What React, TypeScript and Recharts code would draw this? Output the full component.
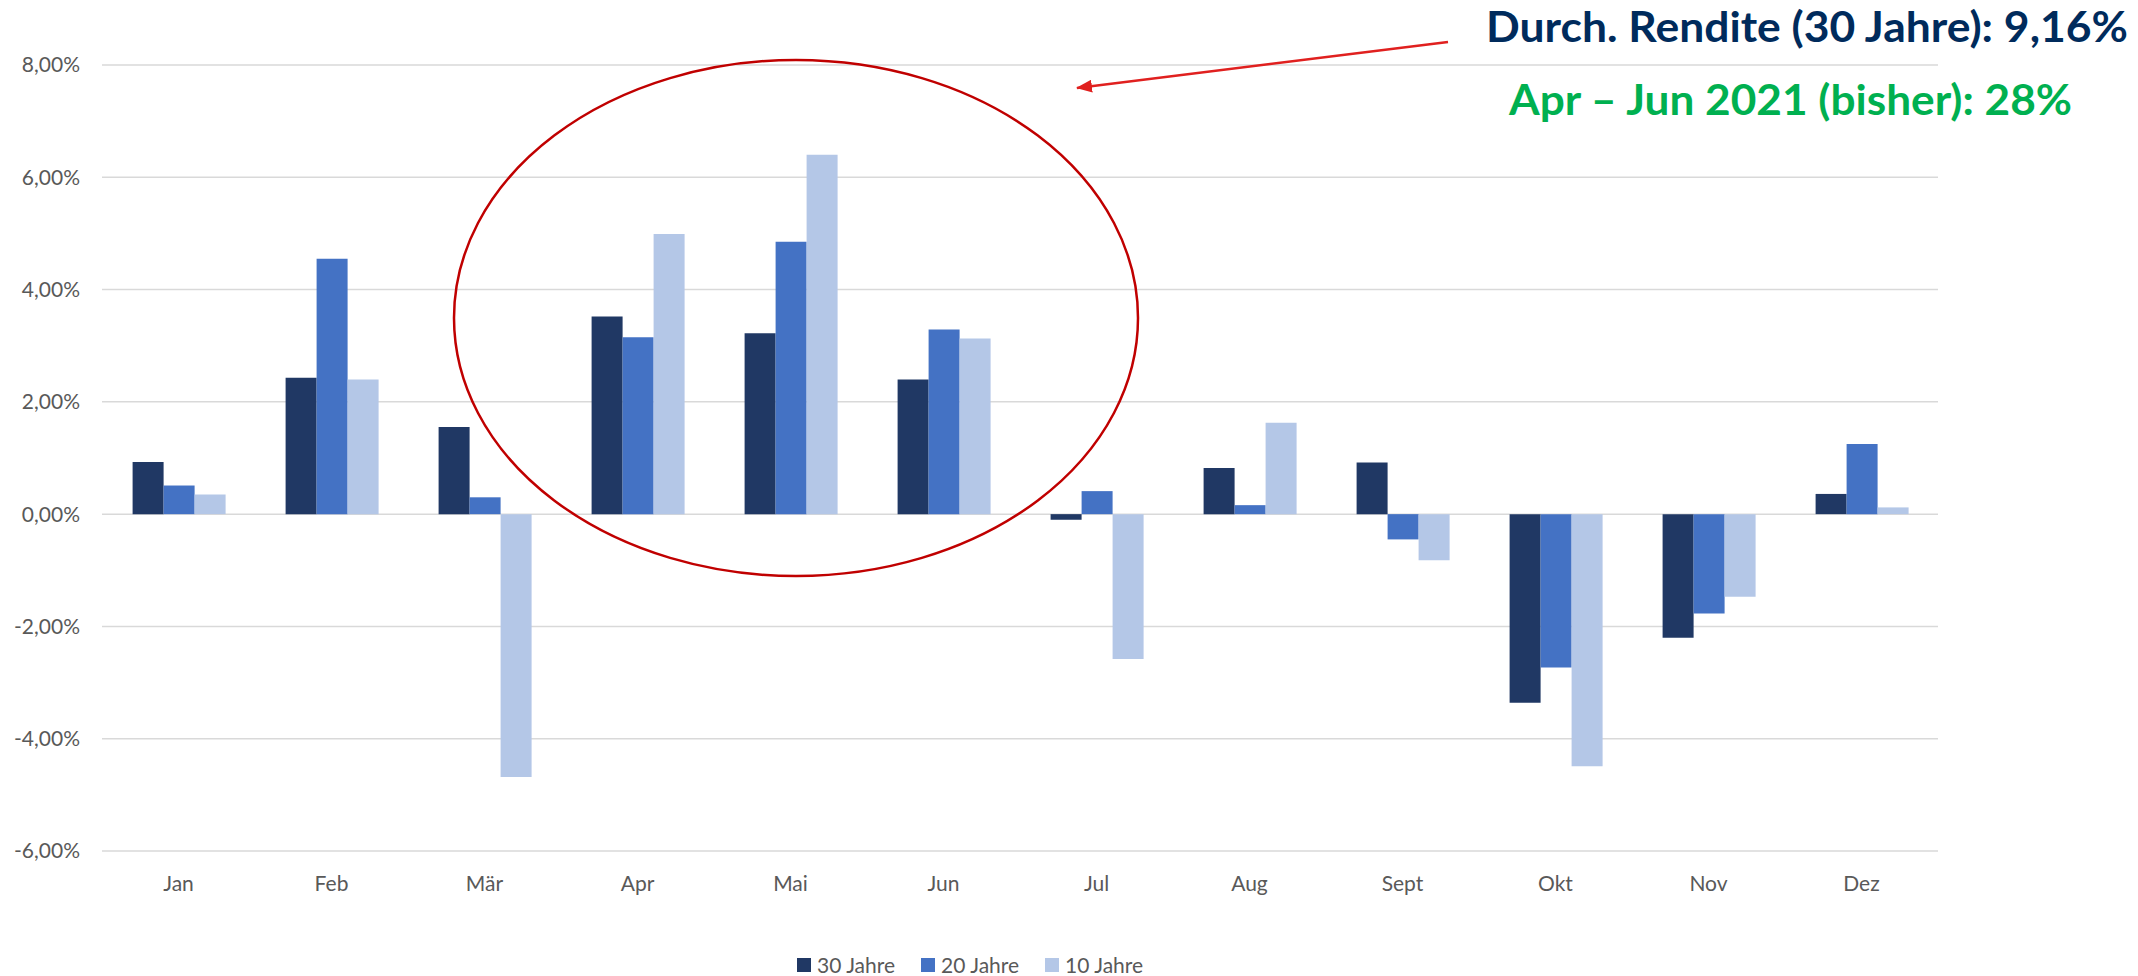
import React from 'react';
import { BarChart, Bar, XAxis, YAxis, CartesianGrid } from 'recharts';

const MONTHS = ['Jan', 'Feb', 'Mär', 'Apr', 'Mai', 'Jun', 'Jul', 'Aug', 'Sept', 'Okt', 'Nov', 'Dez'];
const RENDITE_30 = [0.93, 2.43, 1.55, 3.52, 3.22, 2.4, -0.1, 0.82, 0.92, -3.36, -2.2, 0.36];
const RENDITE_20 = [0.51, 4.55, 0.3, 3.15, 4.85, 3.29, 0.41, 0.16, -0.45, -2.73, -1.77, 1.25];
const RENDITE_10 = [0.35, 2.4, -4.68, 4.99, 6.4, 3.13, -2.58, 1.63, -0.82, -4.49, -1.47, 0.12];
const Y_TICKS = [-6, -4, -2, 0, 2, 4, 6, 8];

const SERIES = [
  { key: 'j30', name: '30 Jahre', color: '#203864' },
  { key: 'j20', name: '20 Jahre', color: '#4472C4' },
  { key: 'j10', name: '10 Jahre', color: '#B4C7E7' },
];

const data = MONTHS.map((month, i) => ({
  month,
  j30: RENDITE_30[i],
  j20: RENDITE_20[i],
  j10: RENDITE_10[i],
}));

const FONT = 'Lato, "Open Sans", sans-serif';
const formatPct = (v: number) => v.toFixed(2).replace('.', ',') + '%';

export default function App() {
  return (
    <div style={{ position: 'absolute', left: 0, top: 0, width: 2138, height: 976, background: '#fff', fontFamily: FONT }}>
      <BarChart
        width={2138}
        height={976}
        data={data}
        margin={{ top: 65, right: 200, bottom: 0, left: 0 }}
        barCategoryGap="20%"
        barGap={0}
      >
        <CartesianGrid stroke="#D9D9D9" strokeWidth={1.5} vertical={false} />
        <XAxis
          dataKey="month"
          height={125}
          axisLine={false}
          tickLine={false}
          tickSize={0}
          tickMargin={25}
          tick={{ fill: '#595959', fontSize: 21, fontFamily: FONT }}
        />
        <YAxis
          width={102}
          domain={[-6, 8]}
          ticks={Y_TICKS}
          tickFormatter={formatPct}
          axisLine={false}
          tickLine={false}
          tickSize={0}
          tickMargin={22}
          tick={{ fill: '#595959', fontSize: 21, fontFamily: FONT }}
        />
        {SERIES.map((s) => (
          <Bar key={s.key} dataKey={s.key} name={s.name} fill={s.color} isAnimationActive={false} />
        ))}
      </BarChart>

      {/* legend */}
      <div style={{ position: 'absolute', left: 797, top: 952, display: 'flex', alignItems: 'center', fontSize: 21, color: '#595959' }}>
        {SERIES.map((s) => (
          <div key={s.key} style={{ display: 'flex', alignItems: 'center', marginRight: 26 }}>
            <span style={{ display: 'inline-block', width: 14, height: 14, background: s.color, marginRight: 6 }} />
            <span>{s.name}</span>
          </div>
        ))}
      </div>

      {/* annotations */}
      <svg width={2138} height={976} style={{ position: 'absolute', left: 0, top: 0, pointerEvents: 'none' }}>
        <defs>
          <marker id="arrowHead" markerWidth="16" markerHeight="13" refX="15" refY="6.5" orient="auto" markerUnits="userSpaceOnUse">
            <path d="M0,0 L16,6.5 L0,13 Z" fill="#E0201F" />
          </marker>
        </defs>
        <ellipse cx={796} cy={318} rx={342} ry={258} fill="none" stroke="#C00000" strokeWidth={2.5} />
        <line x1={1448} y1={42} x2={1077} y2={88} stroke="#E0201F" strokeWidth={2.5} markerEnd="url(#arrowHead)" />
        <text x={1486} y={42} textLength={642} lengthAdjust="spacingAndGlyphs" fontSize={42} fontWeight={700} fill="#002B5C" fontFamily={FONT}>
          Durch. Rendite (30 Jahre): 9,16%
        </text>
        <text x={1509} y={115} textLength={563} lengthAdjust="spacingAndGlyphs" fontSize={42} fontWeight={700} fill="#00B050" fontFamily={FONT}>
          Apr – Jun 2021 (bisher): 28%
        </text>
      </svg>
    </div>
  );
}
